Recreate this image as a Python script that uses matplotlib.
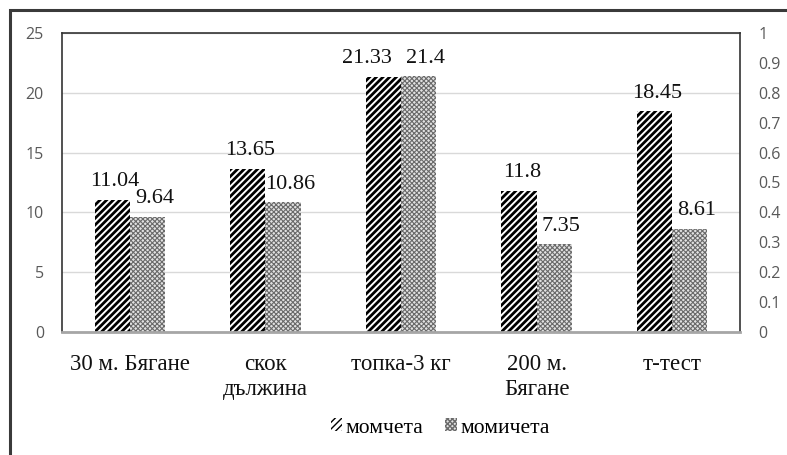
import matplotlib
matplotlib.use('Agg')
import matplotlib.pyplot as plt
from matplotlib.patches import Rectangle
import numpy as np

categories = ['30 м. Бягане', 'скок\nдължина', 'топка-3 кг', '200 м.\nБягане', 'т-тест']
boys = [11.04, 13.65, 21.33, 11.8, 18.45]
girls = [9.64, 10.86, 21.4, 7.35, 8.61]
series_names = ['момчета', 'момичета']

serif = ['Liberation Serif', 'DejaVu Serif']
sans = ['Open Sans', 'DejaVu Sans']
tick_grey = '#595959'

fig = plt.figure(figsize=(7.87, 4.55), dpi=100)

# outer chart frame
fig.patches.append(Rectangle((10 / 787, -0.05), 1.1, 1 - 10 / 455 + 0.05,
                             transform=fig.transFigure, fill=False,
                             edgecolor='#3a3a3a', linewidth=2.2))

ax = fig.add_axes([62 / 787, 1 - 332 / 455, 678 / 787, 299 / 455])
x = np.arange(len(categories))
w = 0.26

b1 = ax.bar(x - w / 2, boys, w, color='white', edgecolor='black', hatch='/////',
            linewidth=0, zorder=3, label=series_names[0])
b2 = ax.bar(x + w / 2, girls, w, color='#e2e2e2', edgecolor='#6a6a6a', hatch='xxxxxxx',
            linewidth=0, zorder=3, label=series_names[1])
for bars, lw in ((b1, 2.0), (b2, 0.8)):
    for p in bars:
        p.set_hatch_linewidth(lw)

# value labels; the boys label moves left when both values sit at the same height
for i in range(len(categories)):
    dx_boys = -12 if abs(boys[i] - girls[i]) < 0.5 else 2
    for p, v, dx in ((b1[i], boys[i], dx_boys), (b2[i], girls[i], 5)):
        ax.annotate(f'{v:g}', (p.get_x() + p.get_width() / 2, v),
                    xytext=(dx, 13), textcoords='offset points',
                    ha='center', va='center', fontsize=16, family=serif,
                    color='#111111', zorder=4)

ax.set_xlim(-0.5, len(categories) - 0.5)
ax.set_ylim(0, 25)
ax.set_yticks(range(0, 26, 5))
ax.yaxis.grid(True, color='#d9d9d9', linewidth=1, zorder=0)
ax.set_xticks(x)
ax.set_xticklabels(categories, fontsize=16.5, family=serif, color='#111111',
                   linespacing=1.25)
ax.tick_params(axis='x', length=0, pad=16)
ax.tick_params(axis='y', length=0, pad=13, labelsize=11.5, labelcolor=tick_grey)
for lab in ax.get_yticklabels():
    lab.set_family(sans)

for side in ('left', 'right', 'top'):
    ax.spines[side].set_color('#333333')
    ax.spines[side].set_linewidth(1.2)
ax.spines['bottom'].set_color('#a6a6a6')
ax.spines['bottom'].set_linewidth(2)
ax.spines['bottom'].set_zorder(4)

ax2 = ax.twinx()
ax2.set_ylim(0, 1)
ax2.set_yticks(np.linspace(0, 1, 11))
ax2.set_yticklabels(['0', '0.1', '0.2', '0.3', '0.4', '0.5', '0.6', '0.7', '0.8', '0.9', '1'])
ax2.tick_params(axis='y', length=0, pad=13, labelsize=11.5, labelcolor=tick_grey)
for lab in ax2.get_yticklabels():
    lab.set_family(sans)
for s in ax2.spines.values():
    s.set_visible(False)

fig.legend(handles=[b1, b2], labels=series_names, loc='center',
           bbox_to_anchor=(440 / 787, 1 - 428 / 455), ncol=2, frameon=False,
           prop={'family': serif, 'size': 15.5}, handlelength=0.55, handleheight=0.55,
           handletextpad=0.15, columnspacing=1.0)

fig.savefig('out.png', dpi=100)
